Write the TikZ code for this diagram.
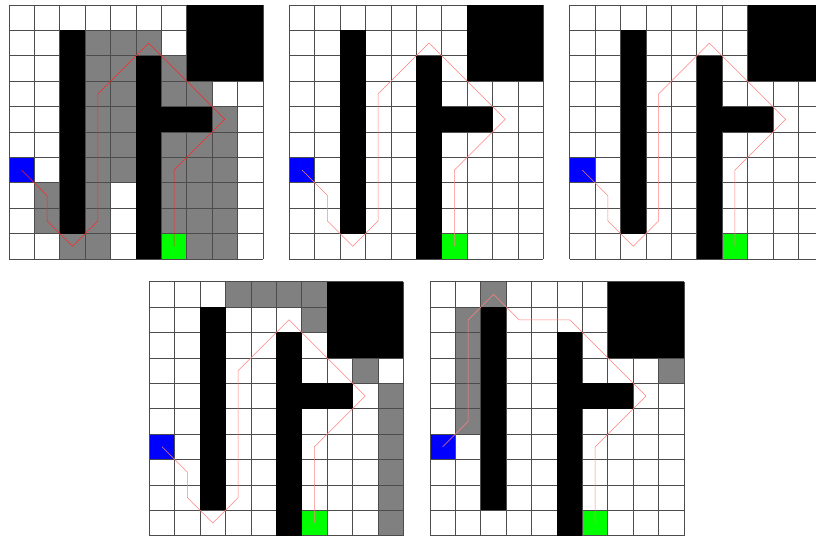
\documentclass[tikz,border=0pt]{standalone}

\tikzset{
    gitter/.style={black!70,line width=0.75pt},
    besucht/.style={fill=black!50},
    hindernis/.style={fill=black},
    startfeld/.style={fill=blue},
    zielfeld/.style={fill=green},
    pfad/.style={red!85,line width=0.55pt},
    altpfad/.style={red!50,line width=0.6pt}
}

% Karte: Start, Ziel, Gitter, Hindernisse
\newcommand{\karte}{%
    \fill[startfeld] (0,6) rectangle (1,7);
    \fill[zielfeld] (6,9) rectangle (7,10);
    \draw[gitter] (0,0) grid (10,10);
    \fill[hindernis] (2,1) rectangle (3,9);
    \fill[hindernis] (5,2) rectangle (6,10);
    \fill[hindernis] (6,4) rectangle (8,5);
    \fill[hindernis] (7,0) rectangle (10,3);
}

% Wege (Zellmitten)
\newcommand{\wegunten}{(0.5,6.5) -- (1.5,7.5) -- (1.5,8.5) -- (2.5,9.5) -- (3.5,8.5) -- (3.5,3.5) -- (5.5,1.5) -- (8.5,4.5) -- (6.5,6.5) -- (6.5,9.5)}
\newcommand{\wegoben}{(0.5,6.5) -- (1.5,5.5) -- (1.5,1.5) -- (2.5,0.5) -- (3.5,1.5) -- (5.5,1.5) -- (8.5,4.5) -- (6.5,6.5) -- (6.5,9.5)}

\begin{document}
\begin{tikzpicture}[yscale=-1]
    \useasboundingbox (0,0) rectangle (32.126,21.181);

    % Gitter 1: besuchte Zellen
    \begin{scope}[shift={(0.354,0.197)}]
        \foreach \c/\r in {3/1,4/1,5/1, 3/2,4/2,6/2, 3/3,4/3,6/3,7/3, 3/4,4/4,8/4,
                           3/5,4/5,6/5,7/5,8/5, 3/6,4/6,6/6,7/6,8/6,
                           1/7,3/7,6/7,7/7,8/7, 1/8,3/8,6/8,7/8,8/8, 2/9,3/9,7/9,8/9} {
                \fill[besucht] (\c,\r) rectangle ++(1,1);
            }
        \karte
        \draw[pfad] \wegunten;
    \end{scope}

    % Gitter 2
    \begin{scope}[shift={(11.39,0.197)}]
        \karte
        \draw[altpfad] \wegunten;
    \end{scope}

    % Gitter 3 (rechts abgeschnitten)
    \begin{scope}[shift={(22.43,0.197)}]
        \karte
        \draw[altpfad] \wegunten;
    \end{scope}

    % Gitter 4
    \begin{scope}[shift={(5.878,11.09)}]
        \foreach \c/\r in {3/0,4/0,5/0,6/0,6/1,8/3,9/4,9/5,9/6,9/7,9/8,9/9} {
                \fill[besucht] (\c,\r) rectangle ++(1,1);
            }
        \karte
        \draw[altpfad] \wegunten;
    \end{scope}

    % Gitter 5
    \begin{scope}[shift={(16.93,11.09)}]
        \foreach \c/\r in {2/0,1/1,1/2,1/3,1/4,1/5,9/3} {
                \fill[besucht] (\c,\r) rectangle ++(1,1);
            }
        \karte
        \draw[altpfad] \wegoben;
    \end{scope}

\end{tikzpicture}
\end{document}
